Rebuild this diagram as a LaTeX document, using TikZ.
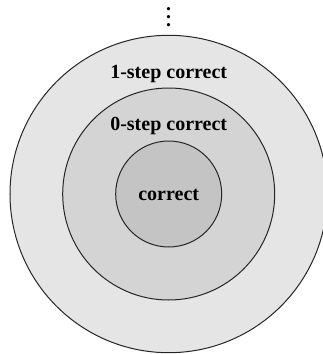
\documentclass[tikz,border=0pt]{standalone}
\usepackage{fontspec}
\setmainfont{Liberation Serif}
\usetikzlibrary{positioning}
\definecolor{ringout}{HTML}{E5E5E5}
\definecolor{ringmid}{HTML}{D4D4D4}
\definecolor{ringin}{HTML}{C4C4C4}
\tikzset{
  ring/.style={circle,draw=black!85,line width=0.5pt,inner sep=0pt},
  lbl/.style={font=\bfseries,anchor=base,inner sep=0pt},
}
\begin{document}
\begin{tikzpicture}[x=0.5pt,y=0.5pt]
  \useasboundingbox (-168.7,-160) rectangle (153.3,194);
  % nested sets
  \node[ring,fill=ringout,minimum size=158.7pt] (outer) at (0,0) {};
  \node[ring,fill=ringmid,minimum size=106pt] (mid) at (0,0) {};
  \node[ring,fill=ringin,minimum size=53pt] (inner) at (0,0) {};
  \node[lbl] (onestep) at (0,116) {1-step correct};
  \node[lbl] (zerostep) at (0,64) {0-step correct};
  \node[lbl] (corr) at (0,-6.7) {correct};
  \node[lbl] (dots) at (0,167.6) {$\vdots$};
\end{tikzpicture}
\end{document}
